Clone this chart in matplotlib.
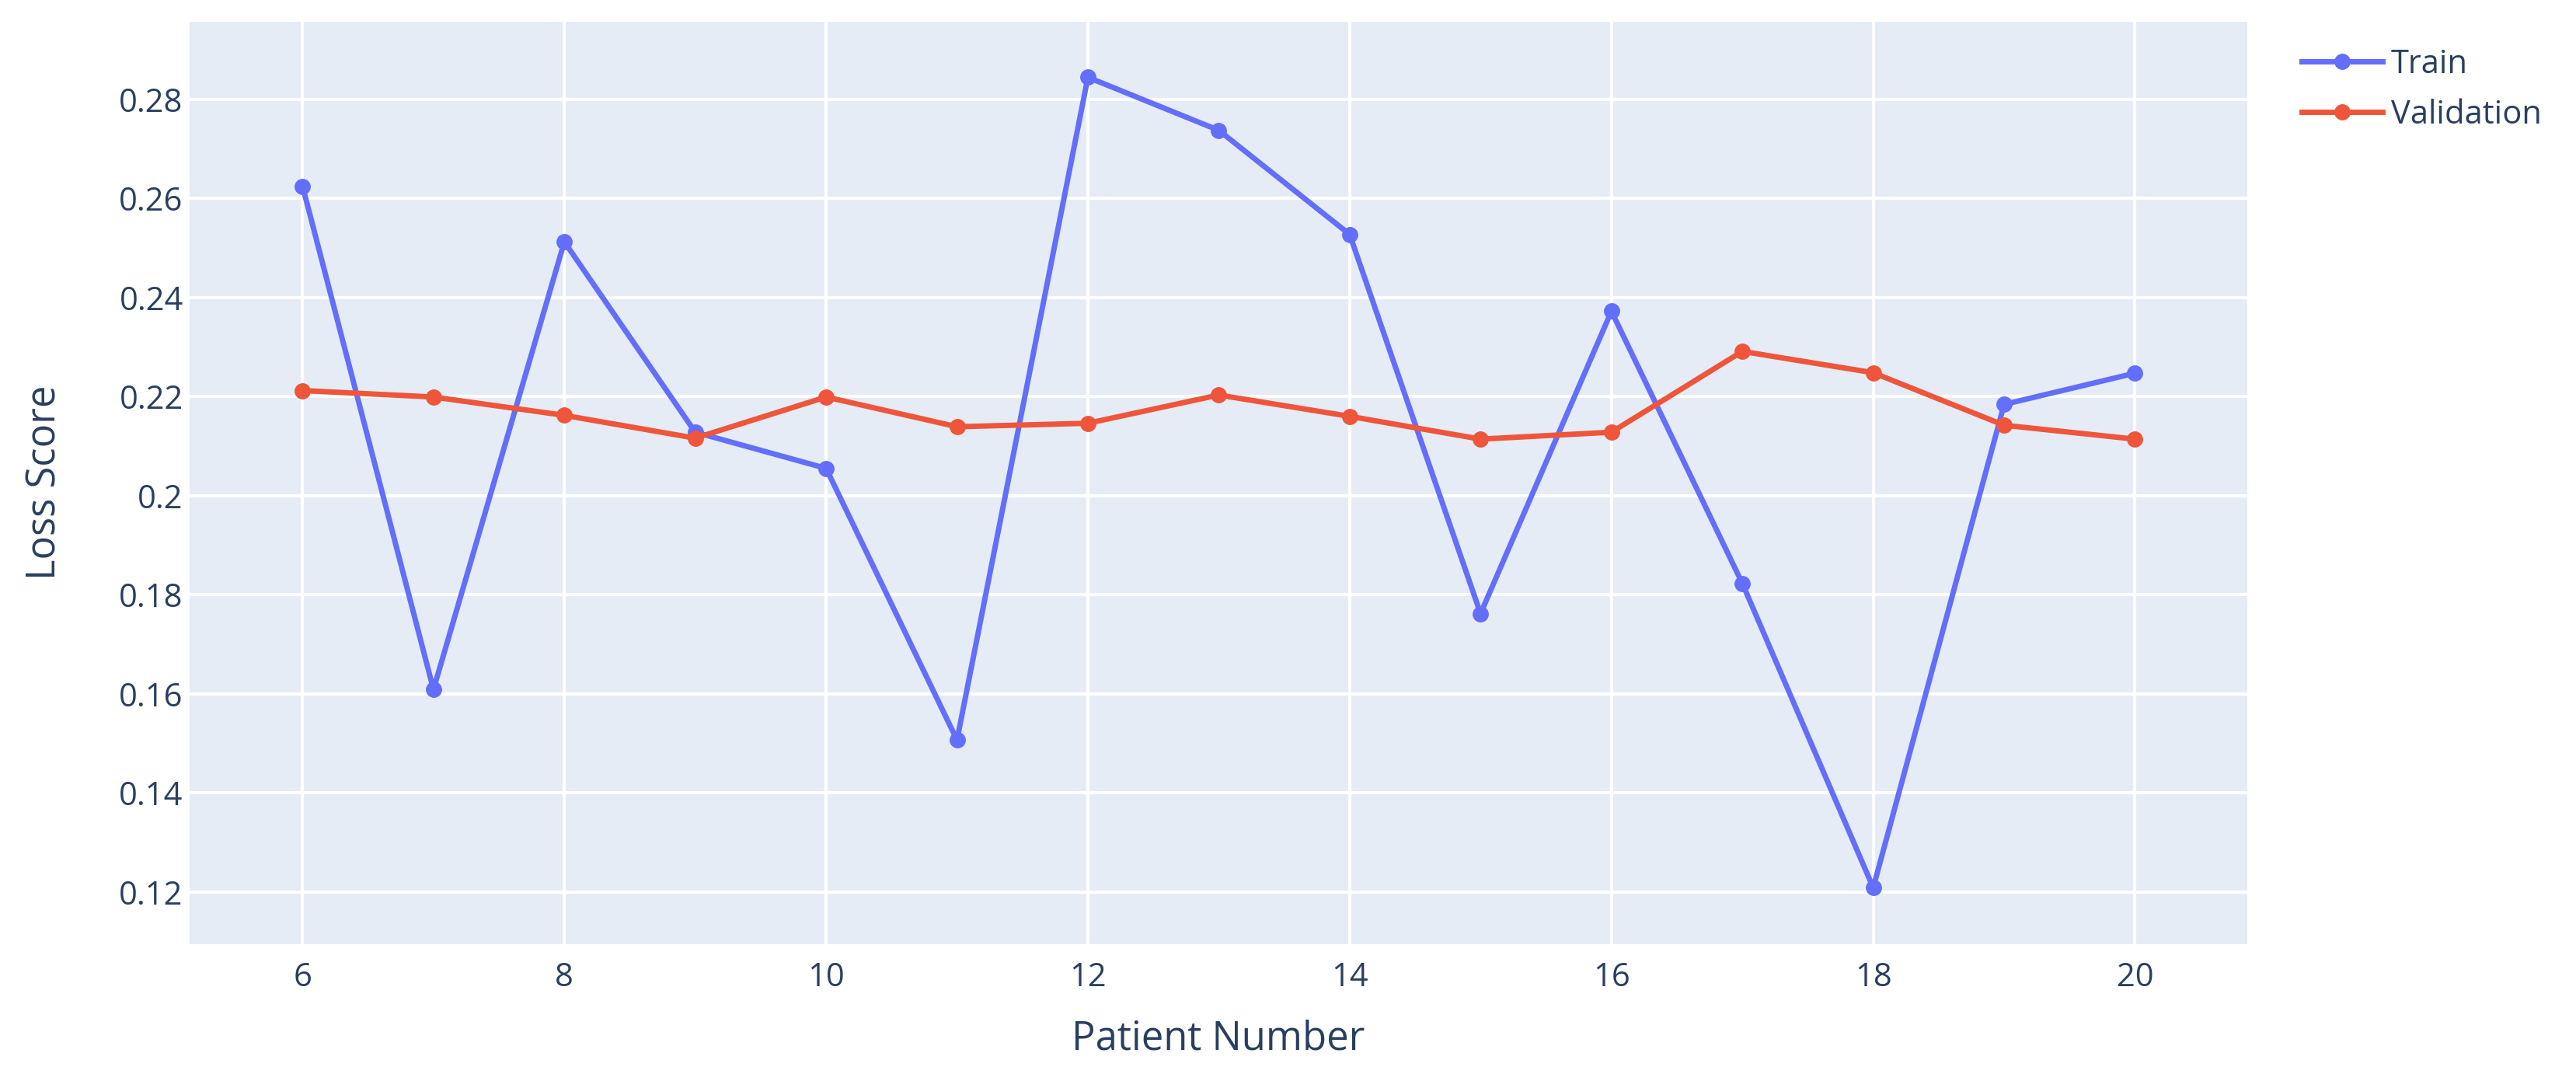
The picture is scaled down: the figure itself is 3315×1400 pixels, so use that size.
import matplotlib.pyplot as plt

# loss per patient
patients = [6, 7, 8, 9, 10, 11, 12, 13, 14, 15, 16, 17, 18, 19, 20]
train_loss = [0.2624, 0.1609, 0.2512, 0.2128, 0.2055, 0.1507, 0.2844, 0.2737,
              0.2527, 0.1762, 0.2372, 0.1823, 0.1209, 0.2184, 0.2247]
val_loss = [0.2212, 0.2199, 0.2162, 0.2116, 0.2199, 0.2139, 0.2146, 0.2203,
            0.2160, 0.2114, 0.2128, 0.2291, 0.2248, 0.2142, 0.2114]
y_ticks = [0.12, 0.14, 0.16, 0.18, 0.2, 0.22, 0.24, 0.26, 0.28]
y_tick_labels = ['0.12', '0.14', '0.16', '0.18', '0.2', '0.22', '0.24', '0.26', '0.28']
x_ticks = [6, 8, 10, 12, 14, 16, 18, 20]

text_color = '#2a3f5f'
plt.rcParams['font.family'] = ['Open Sans', 'DejaVu Sans']

W, H = 3316, 1400
fig = plt.figure(figsize=(W / 100, H / 100), dpi=100)
left, right, top, bottom = 244, 2892, 28, 1215
ax = fig.add_axes([left / W, 1 - bottom / H, (right - left) / W, (bottom - top) / H])
ax.set_facecolor('#E5ECF6')

ax.plot(patients, train_loss, color='#636EFA', lw=5, marker='o', ms=14,
        label='Train', zorder=3)
ax.plot(patients, val_loss, color='#EF553B', lw=5, marker='o', ms=14,
        label='Validation', zorder=3)

ax.set_xlim(5.137, 20.858)
ax.set_ylim(0.1095, 0.2956)
ax.set_xticks(x_ticks)
ax.set_yticks(y_ticks)
ax.set_yticklabels(y_tick_labels)
ax.grid(True, color='white', lw=3)
ax.set_axisbelow(True)
for s in ax.spines.values():
    s.set_visible(False)
ax.tick_params(axis='both', length=0, labelsize=30, labelcolor=text_color)
ax.tick_params(axis='x', pad=16)
ax.tick_params(axis='y', pad=6)

fig.text(58 / W, 1 - 621 / H, 'Loss Score', rotation=90, ha='center', va='center',
         fontsize=36.5, color=text_color)
fig.text(1568 / W, 1 - 1337 / H, 'Patient Number', ha='center', va='center',
         fontsize=36.5, color=text_color)

leg = fig.legend(loc='upper left', bbox_to_anchor=(2962 / W, 1 - 62 / H),
                 frameon=False, fontsize=30, handlelength=2.5, handletextpad=0.25,
                 labelspacing=0.55, borderaxespad=0, borderpad=0)
for t in leg.get_texts():
    t.set_color(text_color)

fig.savefig('out.png', dpi=100, facecolor='white')
